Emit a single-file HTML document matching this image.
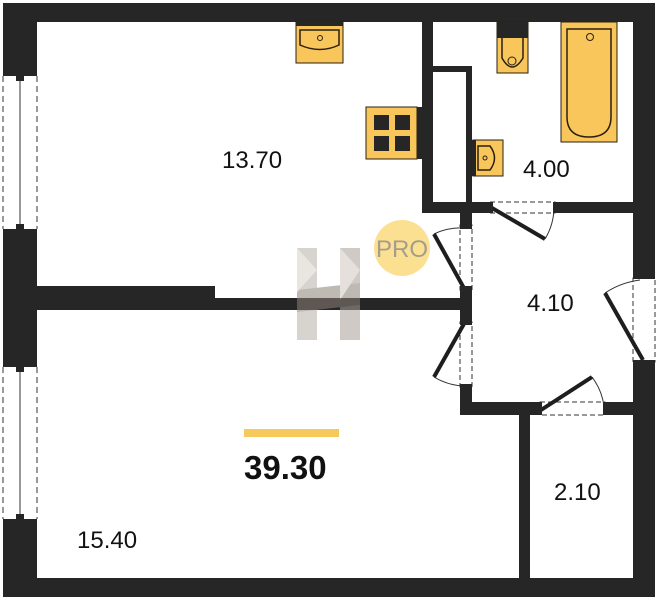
<!DOCTYPE html>
<html><head><meta charset="utf-8"><style>
html,body{margin:0;padding:0;background:#fff;width:657px;height:600px;overflow:hidden}
svg{display:block}
text{font-family:"Liberation Sans","DejaVu Sans",sans-serif}
</style></head><body>
<svg width="657" height="600" viewBox="0 0 657 600" xmlns="http://www.w3.org/2000/svg">
<g fill="#262626">
<!-- outer walls -->
<rect x="3" y="3" width="652" height="19"/>
<rect x="3" y="3" width="34" height="69"/>
<rect x="3" y="233" width="34" height="130"/>
<rect x="3" y="523" width="34" height="74"/>
<rect x="3" y="578" width="652" height="19"/>
<rect x="633" y="3" width="22" height="275"/>
<rect x="633" y="362" width="22" height="235"/>
<!-- interior -->
<rect x="37" y="286" width="178" height="24"/>
<rect x="214" y="298" width="250" height="12"/>
<rect x="422" y="21" width="11" height="192"/>
<rect x="422" y="202" width="68" height="11"/>
<rect x="554" y="202" width="80" height="11"/>
<rect x="433" y="66" width="39" height="6"/>
<rect x="466" y="66" width="6" height="147"/>
<rect x="460" y="202" width="12" height="23"/>
<rect x="460" y="290" width="12" height="32"/>
<rect x="460" y="387" width="12" height="28"/>
<rect x="460" y="402" width="80" height="13"/>
<rect x="605" y="402" width="30" height="13"/>
<rect x="519" y="413" width="11" height="166"/>
</g>
<rect x="623" y="22" width="9" height="10" fill="#fff"/>
<!-- windows -->
<g stroke="#333" fill="none">
<line x1="3" y1="76" x2="3" y2="229" stroke-dasharray="6,4"/>
<line x1="37" y1="76" x2="37" y2="229" stroke-dasharray="6,4"/>
<line x1="20" y1="76" x2="20" y2="229"/>
<line x1="3" y1="367" x2="3" y2="519" stroke-dasharray="6,4"/>
<line x1="37" y1="367" x2="37" y2="519" stroke-dasharray="6,4"/>
<line x1="20" y1="367" x2="20" y2="519"/>
</g>
<g fill="#262626">
<rect x="3" y="72" width="34" height="4"/><rect x="16" y="75" width="8" height="6"/>
<rect x="3" y="229" width="34" height="4"/><rect x="16" y="224" width="8" height="6"/>
<rect x="3" y="363" width="34" height="4"/><rect x="16" y="366" width="8" height="6"/>
<rect x="3" y="519" width="34" height="4"/><rect x="16" y="514" width="8" height="6"/>
</g>
<!-- doors -->
<g fill="none" stroke="#333" stroke-width="1">
<rect x="490" y="202" width="65" height="11" stroke-dasharray="5,3"/>
<rect x="460" y="225" width="12" height="65" stroke-dasharray="5,3"/>
<rect x="460" y="322" width="12" height="65" stroke-dasharray="5,3"/>
<rect x="633" y="278" width="22" height="84" stroke-dasharray="5,3"/>
<rect x="540" y="402" width="65" height="13" stroke-dasharray="5,3"/>
<path d="M545,239 A62,62 0 0 0 554,207"/>
<path d="M434,234 A62,62 0 0 1 464,228"/>
<path d="M434,377 A62,62 0 0 0 464,386"/>
<path d="M605,293 A80,80 0 0 1 640,280"/>
<path d="M592,377 A62,62 0 0 1 604,406"/>
</g>
<g stroke="#1e1e1e" stroke-width="4" stroke-linecap="butt">
<line x1="492" y1="208" x2="545" y2="239"/>
<line x1="465" y1="290" x2="434" y2="234"/>
<line x1="465" y1="322" x2="434" y2="377"/>
<line x1="643" y1="360" x2="605" y2="293"/>
<line x1="541" y1="410" x2="592" y2="377"/>
</g>
<g fill="#262626">
<rect x="488" y="202" width="5" height="11"/><rect x="553" y="202" width="5" height="11"/>
<rect x="460" y="224" width="12" height="5"/><rect x="460" y="286" width="12" height="5"/>
<rect x="460" y="320" width="12" height="5"/><rect x="460" y="384" width="12" height="5"/>
<rect x="633" y="274" width="22" height="5"/><rect x="633" y="360" width="22" height="5"/>
<rect x="537" y="402" width="5" height="13"/><rect x="603" y="402" width="5" height="13"/>
</g>
<!-- fixtures -->
<g stroke="#2a2010" stroke-width="1.5">
<rect x="296" y="21" width="47" height="42" fill="#f8c65b" stroke-width="1"/>
<rect x="296" y="21" width="47" height="5" fill="#262626" stroke="none"/>
<path d="M300,30 H339 V45 Q320,54 300,45 Z" fill="none"/>
<circle cx="320" cy="38" r="2.5" fill="none" stroke-width="1"/>
<rect x="366" y="107" width="51" height="52" fill="#f8c65b" stroke-width="1"/>
<rect x="417" y="107" width="5" height="52" fill="#262626" stroke="none"/>
<rect x="374" y="115" width="15" height="15" fill="#262626" stroke="none"/>
<rect x="395" y="115" width="15" height="15" fill="#262626" stroke="none"/>
<rect x="374" y="136" width="15" height="15" fill="#262626" stroke="none"/>
<rect x="395" y="136" width="15" height="15" fill="#262626" stroke="none"/>
<rect x="497" y="22" width="31" height="51" fill="#f8c65b" stroke-width="1"/>
<rect x="497" y="22" width="31" height="16" fill="#262626" stroke="none"/>
<path d="M502,38 V58 Q512,76 523,58 V38" fill="none"/>
<circle cx="512" cy="61" r="4" fill="none" stroke-width="1"/>
<rect x="561" y="22" width="56" height="120" fill="#f8c65b" stroke-width="1"/>
<path d="M567,29 H611 V117 Q611,137 589,137 Q567,137 567,117 Z" fill="none"/>
<circle cx="590" cy="37" r="3.5" fill="none" stroke-width="1"/>
<rect x="473" y="140" width="30" height="36" fill="#f8c65b" stroke-width="1"/>
<rect x="472" y="140" width="4" height="36" fill="#262626" stroke="none"/>
<path d="M478,146 H490 Q499,158 490,170 H478 Z" fill="none"/>
<circle cx="485" cy="158" r="2" fill="none" stroke-width="1"/>
</g>
<!-- watermark -->
<g opacity="0.55">
<rect x="297" y="248" width="20" height="92" fill="#b8b0a8"/>
<rect x="340" y="248" width="20" height="92" fill="#a8a098"/>
<polygon points="297,290 360,283 360,305 297,312" fill="#8c8078"/>
<polygon points="297,248 317,270 297,292" fill="#d8d2cc"/>
<polygon points="340,248 360,270 340,300" fill="#d0c8c0"/>
</g>
<circle cx="402" cy="248" r="28" fill="#fbe092"/>
<text x="402" y="257" font-size="24" fill="#a59d8c" text-anchor="middle">PRO</text>
<!-- labels -->
<g font-size="24" fill="#111">
<text x="222" y="168">13.70</text>
<text x="523" y="177">4.00</text>
<text x="527" y="311">4.10</text>
<text x="554" y="500">2.10</text>
<text x="77" y="548">15.40</text>
</g>
<rect x="244" y="429" width="95" height="8" fill="#f7c95c"/>
<text x="244" y="479" font-size="33" font-weight="bold" fill="#111">39.30</text>
</svg>
</body></html>
